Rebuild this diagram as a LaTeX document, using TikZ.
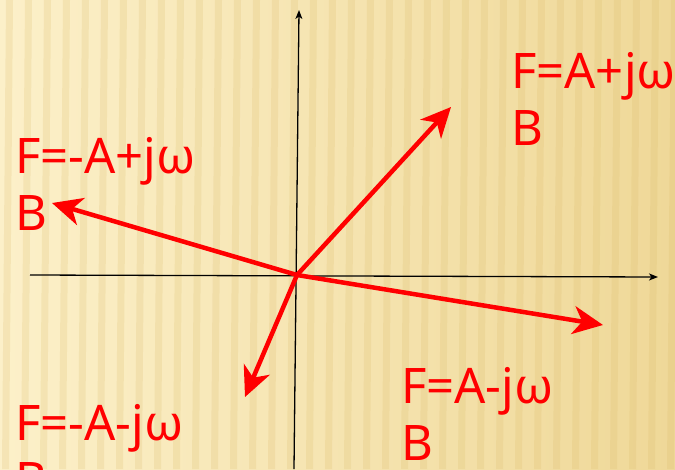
\documentclass[tikz,border=0pt]{standalone}
\usepackage{fontspec}
\setmainfont{Noto Sans}
\usetikzlibrary{arrows.meta}
\definecolor{bgL}{HTML}{FCF0C9}
\definecolor{bgR}{HTML}{EFD898}
\definecolor{stripe}{HTML}{D9B865}
\definecolor{vred}{HTML}{FF0000}
\tikzset{
  axis/.style={black, line width=1.3pt, -{Stealth[length=9pt,width=7pt,inset=2.5pt]}},
  vec/.style={vred, line width=4.5pt, -{Stealth[length=30pt,width=28pt,inset=9pt]}},
  lbl/.style={vred, anchor=base west, inner sep=0pt, align=left,
              font=\fontsize{49}{57}\selectfont}
}
\begin{document}
\begin{tikzpicture}[x=1pt,y=-1pt]
\useasboundingbox (0,0) rectangle (675,469);
% background
\shade[left color=bgL, right color=bgR] (0,0) rectangle (675,469);
\foreach \i in {0,...,36}{
  \fill[stripe, opacity=0.2] ({\i*19+6},0) -- ({\i*19+13},0) -- ({\i*19+9},469) -- ({\i*19+2},469) -- cycle;
}
% axes
\coordinate (xL) at (30,275);
\coordinate (xR) at (658,277);
\coordinate (yB) at (294,469);
\coordinate (yT) at (299,10);
\draw[axis] (xL) -- (xR);
\draw[axis] (yB) -- (yT);
% vectors
\coordinate (O) at (297,275);
\coordinate (t1) at (451,107);
\coordinate (t2) at (52,203);
\coordinate (t3) at (245,397);
\coordinate (t4) at (603,325);
\draw[vec] (O) -- (t1);
\draw[vec] (O) -- (t2);
\draw[vec] (O) -- (t3);
\draw[vec] (O) -- (t4);
% labels (anchor at baseline of the last line)
\node[lbl] (l1) at (511,145) {F=A+jω\\B};
\node[lbl] (l2) at (15,230) {F=-A+jω\\B};
\node[lbl] (l3) at (15,497) {F=-A-jω\\B};
\node[lbl] (l4) at (401,460) {F=A-jω\\B};
\end{tikzpicture}
\end{document}
